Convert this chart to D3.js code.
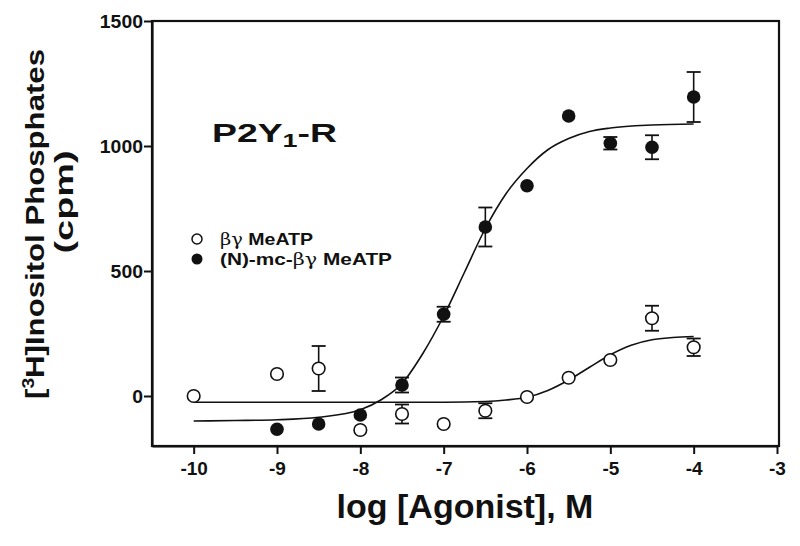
<!DOCTYPE html>
<html>
<head>
<meta charset="utf-8">
<script src="https://cdn.jsdelivr.net/npm/d3@7"></script>
<style>
  body { margin: 0; background: #fff; }
  svg text { font-family: "Liberation Sans", Arial, sans-serif; font-weight: bold; fill: #111; }
</style>
</head>
<body>
<div id="chart"></div>
<script>
// log [Agonist] values (M)
const openConc = [-10, -9, -8.5, -8, -7.5, -7, -6.5, -6, -5.5, -5, -4.5, -4];
// beta-gamma MeATP (open circles)
const openValues = [0, 88, 110, -136, -72, -112, -59, -4, 73, 144, 311, 195];
const openErrors = [0, 0, 90, 0, 38, 0, 30, 0, 0, 0, 50, 35];
// (N)-mc-beta-gamma MeATP (filled circles)
const filledConc = [-9, -8.5, -8, -7.5, -7, -6.5, -6, -5.5, -5, -4.5, -4];
const filledValues = [-133, -112, -76, 44, 327, 676, 841, 1120, 1011, 995, 1196];
const filledErrors = [0, 0, 0, 30, 30, 78, 0, 0, 25, 48, 100];

// fitted curves
const openFitX = [-10, -9, -8, -7.5, -7, -6.5, -6.25, -6, -5.75, -5.5, -5.25, -5, -4.75, -4.5, -4.25, -4];
const openFitY = [-25, -25, -25, -25, -25, -22, -16, -5, 22, 64, 115, 165, 203, 225, 234, 238];
const filledFitX = [-10, -9.5, -9, -8.5, -8, -7.75, -7.5, -7.25, -7, -6.75, -6.5, -6.25, -6, -5.75, -5.5, -5.25, -5, -4.5, -4];
const filledFitY = [-100, -98, -95, -85, -55, -15, 50, 170, 320, 495, 670, 810, 910, 985, 1030, 1058, 1072, 1084, 1088];

const xTicks = [-10, -9, -8, -7, -6, -5, -4, -3];
const yTicks = [0, 500, 1000, 1500];
const seriesNames = ['βγ MeATP', '(N)-mc-βγ MeATP'];

const width = 800, height = 546;
const x = d3.scaleLinear().domain([-10.5, -3]).range([152, 777]);
const y = d3.scaleLinear().domain([-200, 1500]).range([446, 21]);

const svg = d3.select('#chart').append('svg')
    .attr('width', width)
    .attr('height', height);

// frame
svg.append('rect')
    .attr('x', x(-10.5)).attr('y', y(1500))
    .attr('width', x(-3) - x(-10.5) + 2).attr('height', y(-200) - y(1500))
    .attr('fill', 'none').attr('stroke', '#111').attr('stroke-width', 2.2);

const xAxis = svg.append('g')
    .attr('transform', 'translate(0,' + y(-200) + ')')
    .call(d3.axisBottom(x).tickValues(xTicks).tickSize(8).tickSizeOuter(0).tickPadding(8).tickFormat(d => String(d)));
const yAxis = svg.append('g')
    .attr('transform', 'translate(' + x(-10.5) + ',0)')
    .call(d3.axisLeft(y).tickValues(yTicks).tickSize(8).tickSizeOuter(0).tickPadding(1).tickFormat(d => String(d)));

[xAxis, yAxis].forEach(g => {
    g.select('.domain').attr('stroke', '#111').attr('stroke-width', 2.2);
    g.selectAll('.tick line').attr('stroke', '#111').attr('stroke-width', 2);
    g.selectAll('.tick text').attr('font-size', '19px').style('font-family', '"Liberation Sans", Arial, sans-serif').attr('font-weight', 'bold').attr('fill', '#111');
});
yAxis.selectAll('.tick text').attr('textLength', d => String(d).length * 10.8).attr('lengthAdjust', 'spacingAndGlyphs');

// fitted lines
const line = d3.line().x(d => x(d[0])).y(d => y(d[1])).curve(d3.curveMonotoneX);
svg.append('path')
    .attr('d', line(d3.zip(openFitX, openFitY)))
    .attr('fill', 'none').attr('stroke', '#111').attr('stroke-width', 1.6);
svg.append('path')
    .attr('d', line(d3.zip(filledFitX, filledFitY)))
    .attr('fill', 'none').attr('stroke', '#111').attr('stroke-width', 1.6);

function drawSeries(xs, vals, errs, filled) {
    const data = d3.zip(xs, vals, errs);
    const g = svg.append('g');
    const eb = g.selectAll('g.err').data(data.filter(d => d[2] > 0)).enter().append('g');
    eb.append('line')
        .attr('x1', d => x(d[0])).attr('x2', d => x(d[0]))
        .attr('y1', d => y(d[1] + d[2])).attr('y2', d => y(d[1] - d[2]))
        .attr('stroke', '#111').attr('stroke-width', 1.6);
    [1, -1].forEach(s => {
        eb.append('line')
            .attr('x1', d => x(d[0]) - 7).attr('x2', d => x(d[0]) + 7)
            .attr('y1', d => y(d[1] + s * d[2])).attr('y2', d => y(d[1] + s * d[2]))
            .attr('stroke', '#111').attr('stroke-width', 1.8);
    });
    g.selectAll('circle').data(data).enter().append('circle')
        .attr('cx', d => x(d[0])).attr('cy', d => y(d[1]))
        .attr('r', filled ? 6.8 : 6.3)
        .attr('fill', filled ? '#111' : '#fff')
        .attr('stroke', '#111').attr('stroke-width', filled ? 0 : 1.6);
}
drawSeries(openConc, openValues, openErrors, false);
drawSeries(filledConc, filledValues, filledErrors, true);

// title
const t = svg.append('text').attr('x', 212).attr('y', 142).attr('font-size', '25px')
    .attr('textLength', 125).attr('lengthAdjust', 'spacingAndGlyphs');
t.append('tspan').text('P2Y');
t.append('tspan').attr('font-size', '18px').attr('dy', 5).text('1');
t.append('tspan').attr('dy', -5).text('-R');

// legend
const legendWidths = [93, 172];
seriesNames.forEach((name, i) => {
    const filled = i === 1;
    const ly = 239 + i * 20;
    svg.append('circle').attr('cx', 197).attr('cy', ly).attr('r', filled ? 5.5 : 5)
        .attr('fill', filled ? '#111' : '#fff').attr('stroke', '#111').attr('stroke-width', filled ? 0 : 1.5);
    const lt = svg.append('text').attr('x', 220).attr('y', ly + 6).attr('font-size', '17px')
        .attr('textLength', legendWidths[i]).attr('lengthAdjust', 'spacingAndGlyphs');
    const parts = name.split('βγ');
    lt.append('tspan').text(parts[0]);
    lt.append('tspan').attr('font-weight', 'normal').style('font-family', '"DejaVu Serif", serif').text('βγ');
    lt.append('tspan').text(parts[1]);
});

// axis titles
svg.append('text')
    .attr('x', 465).attr('y', 518)
    .attr('text-anchor', 'middle').attr('font-size', '34px')
    .text('log [Agonist], M');

const yt = svg.append('text')
    .attr('transform', 'translate(44,224) rotate(-90)')
    .attr('text-anchor', 'middle').attr('font-size', '26px')
    .attr('textLength', 350).attr('lengthAdjust', 'spacingAndGlyphs');
yt.append('tspan').text('[');
yt.append('tspan').attr('font-size', '16px').attr('dy', -10).text('3');
yt.append('tspan').attr('dy', 10).text('H]Inositol Phosphates');

svg.append('text')
    .attr('transform', 'translate(73,202) rotate(-90)')
    .attr('text-anchor', 'middle').attr('font-size', '26px')
    .attr('textLength', 103).attr('lengthAdjust', 'spacingAndGlyphs')
    .text('(cpm)');
</script>
</body>
</html>
